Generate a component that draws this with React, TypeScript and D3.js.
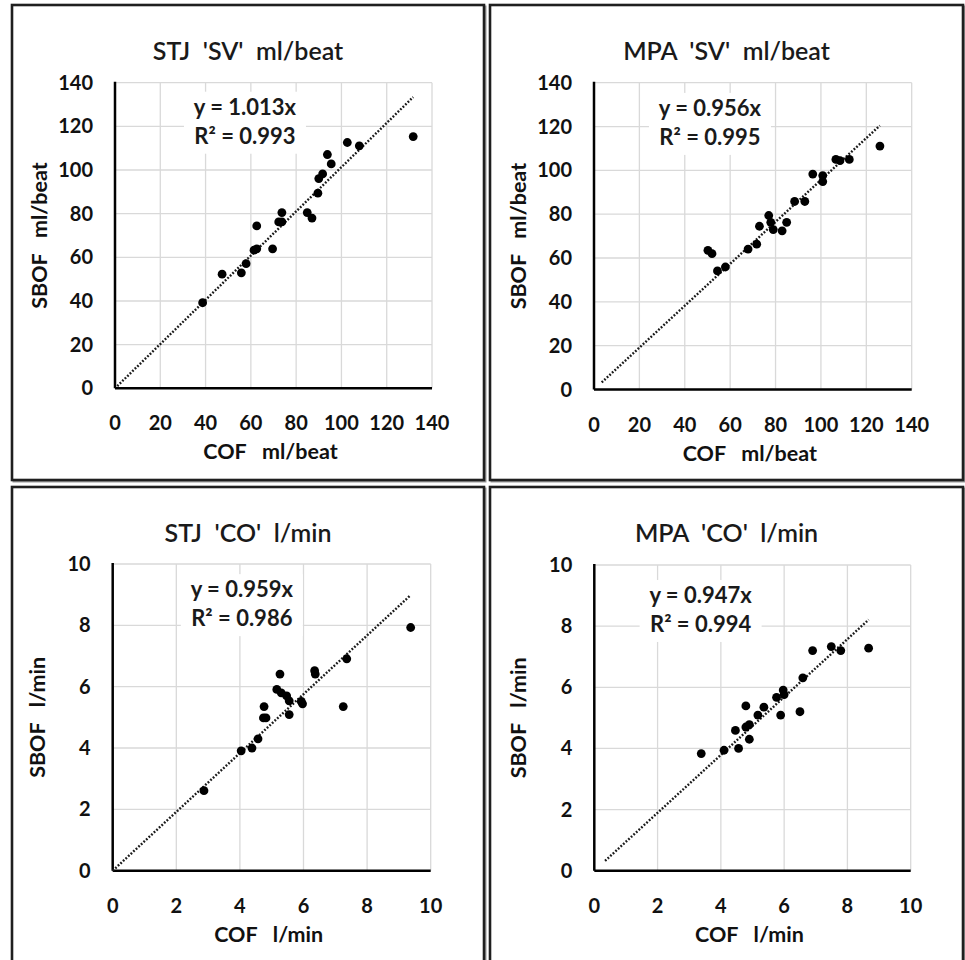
import React from "react";
import * as d3 from "d3";

const svTicks = [0, 20, 40, 60, 80, 100, 120, 140];
const coTicks = [0, 2, 4, 6, 8, 10];

const stjSvX = [38.7, 47.3, 55.8, 57.9, 61.4, 62.6, 62.6, 69.6, 72.3, 73.7, 73.7, 84.9, 87.0, 89.6, 90.0, 91.7, 93.8, 95.5, 102.6, 107.9, 131.7];
const stjSvY = [39.2, 52.3, 52.9, 57.1, 63.3, 63.9, 74.4, 63.9, 76.2, 76.2, 80.5, 80.5, 78.0, 89.4, 96.1, 98.2, 107.1, 102.8, 112.6, 111.1, 115.3];

const mpaSvX = [50.2, 52.0, 54.4, 57.9, 67.9, 71.7, 72.9, 77.0, 77.9, 79.0, 82.9, 84.9, 88.4, 92.9, 96.4, 100.8, 100.8, 106.6, 108.4, 112.5, 126.0];
const mpaSvY = [63.5, 62.0, 54.1, 55.9, 64.1, 66.3, 74.5, 79.4, 76.3, 73.0, 72.4, 76.3, 85.8, 85.8, 98.3, 97.6, 94.9, 105.0, 104.4, 105.0, 111.1];

const stjCoX = [2.87, 4.04, 4.38, 4.57, 4.74, 4.82, 4.76, 5.16, 5.26, 5.3, 5.47, 5.55, 5.55, 5.93, 5.97, 6.35, 6.37, 7.25, 7.36, 9.37];
const stjCoY = [2.61, 3.91, 4.0, 4.3, 4.98, 4.98, 5.35, 5.91, 6.41, 5.8, 5.7, 5.54, 5.09, 5.52, 5.44, 6.52, 6.41, 5.35, 6.91, 7.93];

const mpaCoX = [3.38, 4.1, 4.46, 4.56, 4.79, 4.79, 4.9, 4.9, 5.17, 5.36, 5.76, 5.89, 5.97, 6.0, 6.5, 6.59, 6.9, 7.49, 7.79, 8.67];
const mpaCoY = [3.83, 3.94, 4.59, 4.0, 5.39, 4.7, 4.78, 4.3, 5.09, 5.35, 5.67, 5.09, 5.91, 5.76, 5.2, 6.31, 7.2, 7.33, 7.2, 7.28];

const titles = ["STJ  'SV'  ml/beat", "MPA  'SV'  ml/beat", "STJ  'CO'  l/min", "MPA  'CO'  l/min"];
const xTitles = ["COF   ml/beat", "COF   ml/beat", "COF   l/min", "COF   l/min"];
const yTitles = ["SBOF   ml/beat", "SBOF   ml/beat", "SBOF   l/min", "SBOF   l/min"];
const slopes = [1.013, 0.956, 0.959, 0.947];
const rSquared = [0.993, 0.995, 0.986, 0.994];
const trendFrom = [1, 3.4, 0, 0.34];
const trendTo = [131.7, 126, 9.37, 8.67];
// where the equation box sits, in data units
const labelX = [57.4, 51.1, 4.06, 3.36];
const labelY = [129, 128.5, 9.18, 9.02];

const FONT = "Lato, 'Open Sans', sans-serif";

const panels = [
  { box: [12, 5, 484, 480], plot: [115, 82.7, 432, 388.3], max: 140, ticks: svTicks, xs: stjSvX, ys: stjSvY },
  { box: [490, 5, 963, 480], plot: [594, 82.7, 911.7, 389.5], max: 140, ticks: svTicks, xs: mpaSvX, ys: mpaSvY },
  { box: [12, 487, 484, 965], plot: [112.7, 564, 430.7, 870.7], max: 10, ticks: coTicks, xs: stjCoX, ys: stjCoY },
  { box: [490, 487, 963, 965], plot: [594.3, 565, 910.7, 870.7], max: 10, ticks: coTicks, xs: mpaCoX, ys: mpaCoY },
];

function Panel({ p, i }: { p: any; i: number }) {
  const [bx0, by0, bx1, by1] = p.box;
  const [l, t, r, b] = p.plot;
  const x = d3.scaleLinear().domain([0, p.max]).range([l, r]);
  const y = d3.scaleLinear().domain([0, p.max]).range([b, t]);
  const line = d3.line<number>().x((d) => x(d)).y((d) => y(d * slopes[i]));
  const lx = x(labelX[i]);
  const ly = y(labelY[i]);

  return (
    <g>
      <rect x={bx0 + 1.5} y={by0 + 1.5} width={bx1 - bx0} height={by1 - by0} fill="none" stroke="#9a9a9a" strokeWidth={2} />
      <rect x={bx0} y={by0} width={bx1 - bx0} height={by1 - by0} fill="#fff" stroke="#1f1f1f" strokeWidth={2.6} />
      <text x={(bx0 + bx1) / 2} y={by0 + 55} textAnchor="middle" fontFamily={FONT} fontWeight={600} fontSize={25} fill="#1a1a1a" style={{ whiteSpace: "pre" }}>
        {titles[i]}
      </text>
      {/* grid */}
      {p.ticks.map((v: number) => (
        <line key={"gx" + v} x1={x(v)} x2={x(v)} y1={t} y2={b} stroke="#d9d9d9" strokeWidth={1.3} />
      ))}
      {p.ticks.map((v: number) => (
        <line key={"gy" + v} x1={l} x2={r} y1={y(v)} y2={y(v)} stroke="#d9d9d9" strokeWidth={1.3} />
      ))}
      {/* equation box hides the grid behind it */}
      <rect x={lx - 61} y={ly - 15} width={122} height={62} fill="#fff" />
      <text x={lx} y={ly + 8} textAnchor="middle" fontFamily={FONT} fontWeight={700} fontSize={22} fill="#1a1a1a">
        {`y = ${slopes[i].toFixed(3)}x`}
      </text>
      <text x={lx} y={ly + 37} textAnchor="middle" fontFamily={FONT} fontWeight={700} fontSize={22} fill="#1a1a1a">
        {`R² = ${rSquared[i].toFixed(3)}`}
      </text>
      {/* axes */}
      <line x1={l} x2={l} y1={t - 1} y2={b} stroke="#000" strokeWidth={2.5} />
      <line x1={l} x2={r} y1={b} y2={b} stroke="#000" strokeWidth={2.5} />
      {p.ticks.map((v: number) => (
        <text key={"tx" + v} x={x(v)} y={b + 42} textAnchor="middle" fontFamily={FONT} fontWeight={700} fontSize={20} fill="#111">
          {v}
        </text>
      ))}
      {p.ticks.map((v: number) => (
        <text key={"ty" + v} x={l - 22} y={y(v) + 7} textAnchor="end" fontFamily={FONT} fontWeight={700} fontSize={20} fill="#111">
          {v}
        </text>
      ))}
      <text x={(l + r) / 2 - 3} y={b + 71} textAnchor="middle" fontFamily={FONT} fontWeight={700} fontSize={21.5} fill="#111" style={{ whiteSpace: "pre" }}>
        {xTitles[i]}
      </text>
      <text transform={`translate(${l - 68},${(t + b) / 2}) rotate(-90)`} textAnchor="middle" fontFamily={FONT} fontWeight={700} fontSize={21.5} fill="#111" style={{ whiteSpace: "pre" }}>
        {yTitles[i]}
      </text>
      {/* trendline */}
      <path d={line([trendFrom[i], trendTo[i]]) || ""} fill="none" stroke="#1a1a1a" strokeWidth={2.4} strokeDasharray="1.8 1.7" />
      {p.xs.map((v: number, k: number) => (
        <circle key={k} cx={x(v)} cy={y(p.ys[k])} r={4.4} fill="#000" />
      ))}
    </g>
  );
}

export default function App() {
  return (
    <svg width={965} height={960} style={{ position: "absolute", left: 0, top: 0, background: "#fff" }}>
      <rect width={965} height={960} fill="#fff" />
      {panels.map((p, i) => (
        <Panel key={i} p={p} i={i} />
      ))}
    </svg>
  );
}
